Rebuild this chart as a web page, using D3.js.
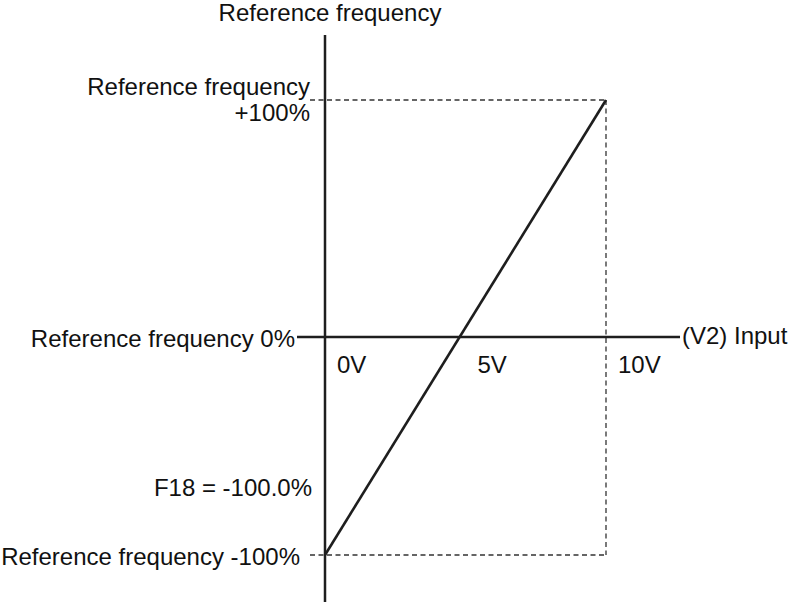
<!DOCTYPE html>
<html>
<head>
<meta charset="utf-8">
<script src="https://cdn.jsdelivr.net/npm/d3@7"></script>
<style>
  html, body { margin: 0; padding: 0; background: #fff; }
  svg text { font-family: "Liberation Sans", Arial, Helvetica, sans-serif; font-size: 24px; fill: #111; }
</style>
</head>
<body>
<svg id="chart" width="795" height="602"></svg>
<script>
// Analog input (V2) to reference frequency characteristic
const inputVolts = [0, 5, 10];
const inputLabels = ["0V", "5V", "10V"];
const freqLevels = [-100, 0, 100];
const lineInput = [0, 10];
const lineFreq = [-100, 100];
const biasLabel = "F18 = -100.0%";
const yTitle = "Reference frequency";
const xTitle = "(V2) Input";

const svg = d3.select("#chart");

const x = d3.scaleLinear().domain([0, 10]).range([325, 606]);
const y = d3.scaleLinear().domain(freqLevels).range([555, 337, 100]);

const ink = "#1e1e1e";
const dash = "#333";

// guide lines from the +100% / -100% levels to the 10V point
const guides = svg.append("g")
  .attr("fill", "none")
  .attr("stroke", dash)
  .attr("stroke-width", 1.3)
  .attr("stroke-dasharray", "5,3.5");
guides.append("line")
  .attr("x1", x(0) - 15).attr("x2", x(10))
  .attr("y1", y(100)).attr("y2", y(100));
guides.append("line")
  .attr("x1", x(0) - 15).attr("x2", x(10))
  .attr("y1", y(-100)).attr("y2", y(-100));
guides.append("line")
  .attr("x1", x(10)).attr("x2", x(10))
  .attr("y1", y(100)).attr("y2", y(-100));

// axes
svg.append("line")
  .attr("x1", x(0)).attr("x2", x(0))
  .attr("y1", 35).attr("y2", 602)
  .attr("stroke", ink).attr("stroke-width", 2.5);
svg.append("line")
  .attr("x1", x(0) - 28).attr("x2", 680)
  .attr("y1", y(0)).attr("y2", y(0))
  .attr("stroke", ink).attr("stroke-width", 2.5);

// characteristic line
const pts = lineInput.map((v, i) => [x(v), y(lineFreq[i])]);
svg.append("path")
  .attr("d", d3.line()(pts))
  .attr("fill", "none")
  .attr("stroke", ink)
  .attr("stroke-width", 2.6);

// input tick labels
svg.append("g").selectAll("text")
  .data(inputVolts)
  .join("text")
  .attr("x", d => x(d) + 12)
  .attr("y", y(0) + 36)
  .text((d, i) => inputLabels[i]);

// axis titles
svg.append("text")
  .attr("x", x(0) + 5).attr("y", 21)
  .attr("text-anchor", "middle")
  .text(yTitle);
svg.append("text")
  .attr("x", 682).attr("y", y(0) + 7)
  .text(xTitle);

// level labels
const lbl = svg.append("g").attr("text-anchor", "end");
lbl.append("text").attr("x", x(0) - 15).attr("y", y(100) - 5).text("Reference frequency");
lbl.append("text").attr("x", x(0) - 15).attr("y", y(100) + 21).text("+100%");
lbl.append("text").attr("x", x(0) - 30).attr("y", y(0) + 10).text("Reference frequency 0%");
lbl.append("text").attr("x", x(0) - 13).attr("y", 496).text(biasLabel);
lbl.append("text").attr("x", x(0) - 25).attr("y", y(-100) + 10).text("Reference frequency -100%");
</script>
</body>
</html>
